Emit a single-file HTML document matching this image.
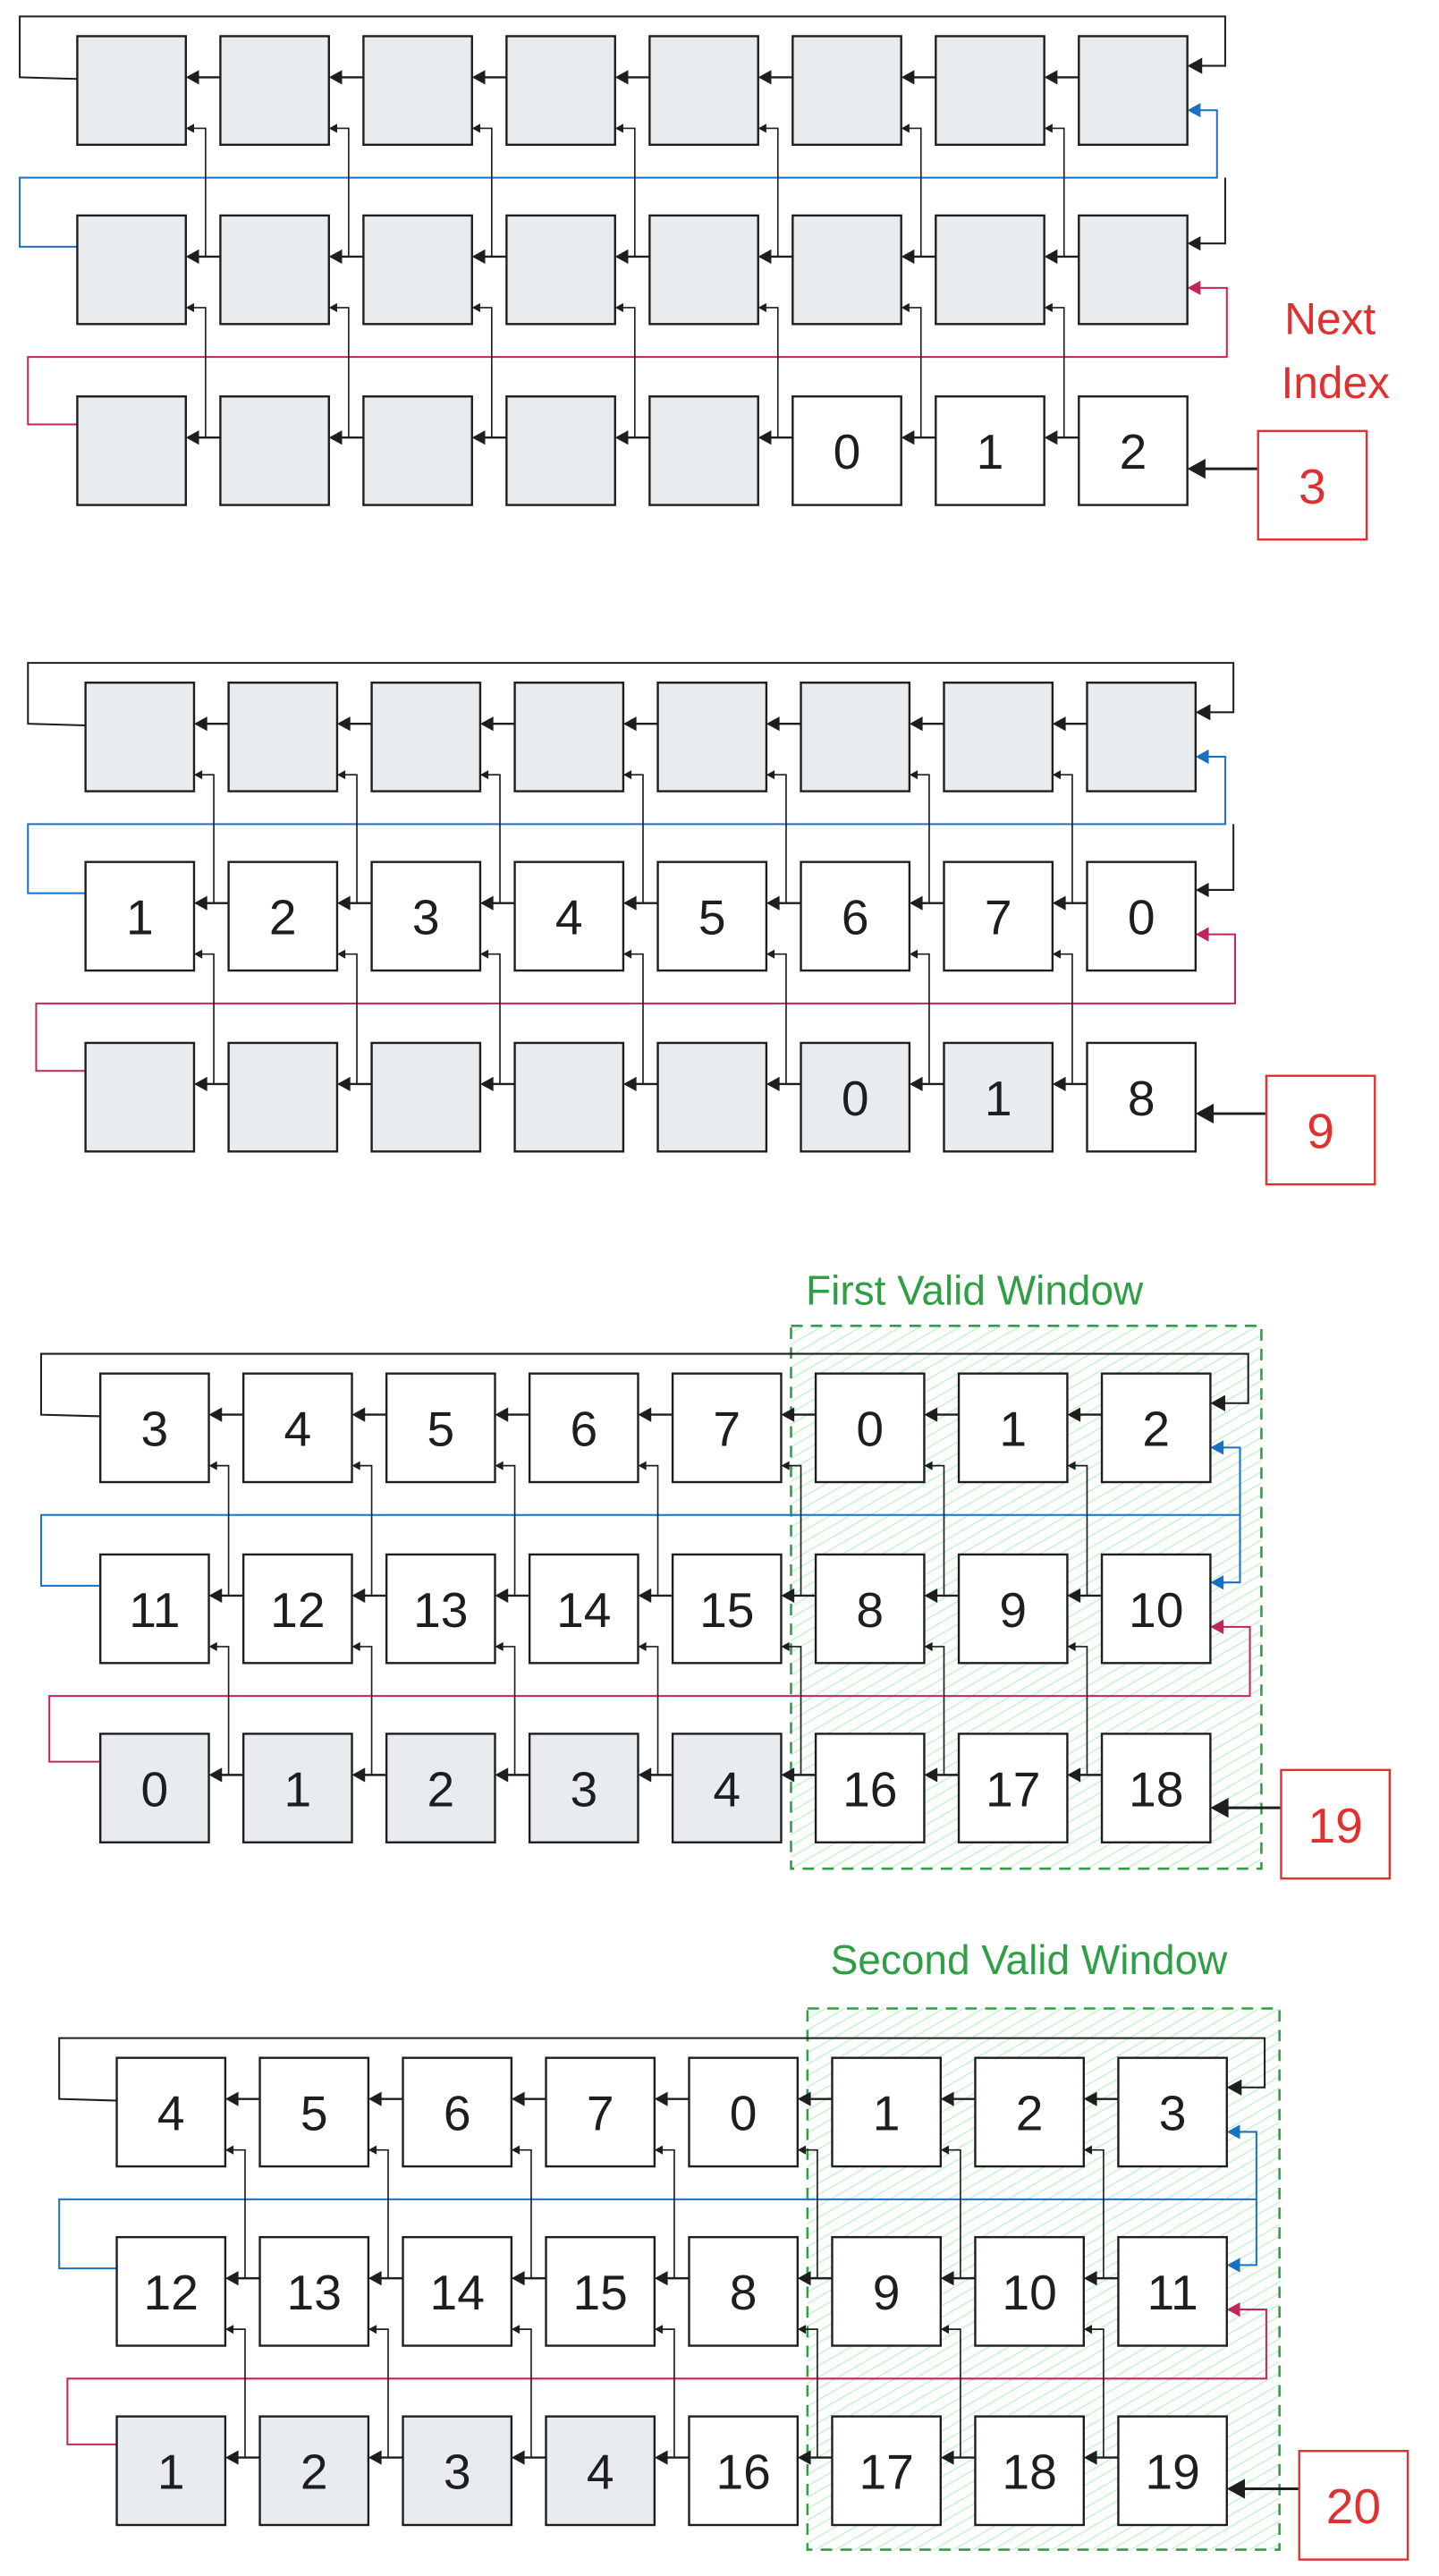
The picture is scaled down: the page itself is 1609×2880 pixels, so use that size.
<!DOCTYPE html>
<html><head><meta charset="utf-8">
<style>
html,body{margin:0;padding:0;background:#fff;}
svg{display:block;}
text{font-family:"Liberation Sans","DejaVu Sans",sans-serif;}
</style></head>
<body>
<svg id="chart" xmlns="http://www.w3.org/2000/svg" width="1609" height="2880" viewBox="0 0 875 1566" preserveAspectRatio="none">
<defs>
<pattern id="hatch" patternUnits="userSpaceOnUse" width="6" height="6" patternTransform="rotate(60)">
<line x1="0" y1="0" x2="0" y2="6" stroke="#b2f2bb" stroke-width="1.2"/>
</pattern>
</defs>
</svg>
<script>
// cell encoding: "g" = gray empty, "g:N" = gray labeled, "w:N" = white labeled
const panel1Rows = [
  ["g","g","g","g","g","g","g","g"],
  ["g","g","g","g","g","g","g","g"],
  ["g","g","g","g","g","w:0","w:1","w:2"]
];
const panel2Rows = [
  ["g","g","g","g","g","g","g","g"],
  ["w:1","w:2","w:3","w:4","w:5","w:6","w:7","w:0"],
  ["g","g","g","g","g","g:0","g:1","w:8"]
];
const panel3Rows = [
  ["w:3","w:4","w:5","w:6","w:7","w:0","w:1","w:2"],
  ["w:11","w:12","w:13","w:14","w:15","w:8","w:9","w:10"],
  ["g:0","g:1","g:2","g:3","g:4","w:16","w:17","w:18"]
];
const panel4Rows = [
  ["w:4","w:5","w:6","w:7","w:0","w:1","w:2","w:3"],
  ["w:12","w:13","w:14","w:15","w:8","w:9","w:10","w:11"],
  ["g:1","g:2","g:3","g:4","w:16","w:17","w:18","w:19"]
];
const nextIndexValues = ["3","9","19","20"];
const windowTitles = ["", "", "First Valid Window", "Second Valid Window"];

const svg = document.getElementById('chart');
const NS = "http://www.w3.org/2000/svg";
function mk(tag, attrs, parent){
  const e = document.createElementNS(NS, tag);
  for (const k in attrs) e.setAttribute(k, attrs[k]);
  (parent||svg).appendChild(e);
  return e;
}
const INK="#1e1e1e", BLUE="#1971c2", CRIM="#c2255c", RED="#e03131", GREEN="#2f9e44";
function arrowHead(g, x, y, dir, color, size){
  const s=size||7;
  const p = dir==="left" ? `${x},${y} ${x+s},${y-s*0.55} ${x+s},${y+s*0.55}` : `${x},${y} ${x-s},${y-s*0.55} ${x-s},${y+s*0.55}`;
  const a = mk('polygon',{points:p,fill:color},g);
  
  
}
function poly(g, pts, color, w){
  const l = mk('polyline',{points:pts.map(p=>p.join(',')).join(' '),fill:'none',stroke:color,'stroke-width':w||1.1},g);
  
  
}

const panels = [
  {rows:panel1Rows, x0:47, y:[22,131,241], loopL:12, redL:17, box:[765,262], label:"next", win:null, blueRow2:false},
  {rows:panel2Rows, x0:52, y:[415,524,634], loopL:17, redL:22, box:[770,654], label:null, win:null, blueRow2:false},
  {rows:panel3Rows, x0:61, y:[835,945,1054], loopL:25, redL:30, box:[779,1076], label:null, win:[481,806,767,1136,490,783], blueRow2:true},
  {rows:panel4Rows, x0:71, y:[1251,1360,1469], loopL:36, redL:41, box:[790,1490], label:null, win:[491,1221,778,1550,505,1190], blueRow2:true}
];
const P=87, W=66;

panels.forEach((pn, pi)=>{
  const g = mk('g',{});
  
  
  const colX = c => pn.x0 + c*P;
  const right = colX(7)+W;
  if (pn.win){
    const [x1,y1,x2,y2,tx,ty] = pn.win;
    const r = mk('rect',{x:x1,y:y1,width:x2-x1,height:y2-y1,fill:'url(#hatch)',stroke:GREEN,'stroke-width':1.4,'stroke-dasharray':'7 5'},g);
    
    
    const t = mk('text',{x:tx,y:ty+10,fill:GREEN,'font-size':25},g);
    t.textContent = windowTitles[pi];
    
    
  }
  const [r1,r2,r3] = pn.y;
  poly(g, [[colX(0),r1+26],[pn.loopL,r1+25],[pn.loopL,r1-12],[right+23,r1-12],[right+23,r1+18],[right+2,r1+18]], INK);
  arrowHead(g, right, r1+18, "left", INK, 9);
  const bY = r1+66+20, bR = right+18;
  poly(g, [[right+2,r1+45],[bR,r1+45],[bR,bY],[pn.loopL,bY],[pn.loopL,r2+19],[colX(0),r2+19]], BLUE);
  arrowHead(g, right, r1+45, "left", BLUE, 8);
  const c2 = pn.blueRow2 ? BLUE : INK;
  poly(g, [[pn.blueRow2?bR:right+23,bY],[pn.blueRow2?bR:right+23,r2+17],[right+2,r2+17]], c2);
  arrowHead(g, right, r2+17, "left", c2, 8);
  const rY = r2+66+20, rR = right+24;
  poly(g, [[right+2,r2+44],[rR,r2+44],[rR,rY],[pn.redL,rY],[pn.redL,r3+17],[colX(0),r3+17]], CRIM);
  arrowHead(g, right, r2+44, "left", CRIM, 8);
  pn.y.forEach((ry, ri)=>{
    for (let c=0;c<7;c++){
      poly(g, [[colX(c+1),ry+25],[colX(c)+W+2,ry+25]], INK, 1.3);
      arrowHead(g, colX(c)+W, ry+25, "left", INK, 8);
      if (ri>0){
        const vx = colX(c)+W+12;
        poly(g, [[vx,ry+25],[vx,pn.y[ri-1]+56],[colX(c)+W+2,pn.y[ri-1]+56]], INK, 0.9);
        arrowHead(g, colX(c)+W, pn.y[ri-1]+56, "left", INK, 5);
      }
    }
  });
  pn.rows.forEach((row, ri)=>{
    row.forEach((cell, c)=>{
      const [kind, lab] = cell.split(':');
      const b = mk('rect',{x:colX(c),y:pn.y[ri],width:W,height:W,fill:kind==='g'?'#e9ecef':'#ffffff',stroke:INK,'stroke-width':1.3},g);
      
      
      if (lab!==undefined){
        const t = mk('text',{x:colX(c)+W/2,y:pn.y[ri]+W/2+11,'text-anchor':'middle','font-size':30,fill:INK},g);
        t.textContent = lab;
        
        
      }
    });
  });
  const [bx,by] = pn.box;
  poly(g, [[bx,by+23],[right+2,by+23]], INK, 1.6);
  arrowHead(g, right, by+23, "left", INK, 11);
  const nb = mk('rect',{x:bx,y:by,width:W,height:W,fill:'#fff',stroke:RED,'stroke-width':1.3},g);
  
  
  const nt = mk('text',{x:bx+W/2,y:by+W/2+11,'text-anchor':'middle','font-size':30,fill:RED},g);
  nt.textContent = nextIndexValues[pi];
  
  
  if (pn.label){
    const t1 = mk('text',{x:781,y:203,fill:RED,'font-size':27},g);
    t1.textContent = "Next";
    
    
    const t2 = mk('text',{x:779,y:242,fill:RED,'font-size':27},g);
    t2.textContent = "Index";
    
    
  }
});
</script>
</body></html>
